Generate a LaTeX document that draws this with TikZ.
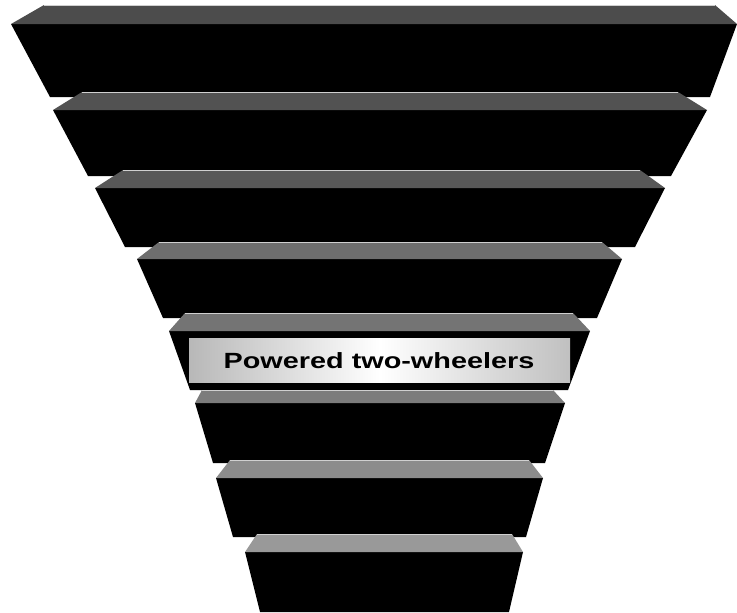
\documentclass[tikz,border=0pt]{standalone}
\usepackage{graphicx}
\usepackage{fontspec}
\setmainfont{Liberation Sans}
\definecolor{t1}{HTML}{4C4C4C}
\definecolor{t2}{HTML}{525252}
\definecolor{t3}{HTML}{585858}
\definecolor{t4}{HTML}{6E6E6E}
\definecolor{t5}{HTML}{747474}
\definecolor{t6}{HTML}{7C7C7C}
\definecolor{t7}{HTML}{8C8C8C}
\definecolor{t8}{HTML}{999999}
\definecolor{edgeline}{HTML}{D0D0D0}
\definecolor{boxside}{HTML}{B8B8B8}
\definecolor{boxright}{HTML}{C0C0C0}
\begin{document}
\begin{tikzpicture}[x=1pt,y=-1pt,
  frontface/.style={fill=black},
  topface/.style={fill=#1},
  rimline/.style={draw=edgeline,line width=0.8pt},
  labelbox/.style={left color=boxside,right color=boxright,middle color=white},
  labeltext/.style={font=\bfseries\fontsize{22}{26}\selectfont,inner sep=0pt,text=black}]
\useasboundingbox (0,0) rectangle (737,613);
\foreach \bl/\br/\by/\fl/\fr/\fy/\dl/\dr/\dy/\c in {
  44/715/5/11/737/24/50/710/97/t1,
  82/678/92/53/707/110/88/671/176/t2,
  123/640/170/95/665/188/125/635/247/t3,
  159/602/242/137/622/259/163/597/318/t4,
  185/573/313/169/590/331/190/568/390/t5,
  202/553/390/195/565/403/213/545/463/t6,
  230/529/460/216/543/478/233/526/537/t7,
  257/512/534/245/523/552/260/509/612/t8}{
  \fill[frontface] (\fl,\fy) -- (\fr,\fy) -- (\dr,\dy) -- (\dl,\dy) -- cycle;
  \fill[topface=\c] (\bl,\by) -- (\br,\by) -- (\fr,\fy) -- (\fl,\fy) -- cycle;
  \draw[rimline] (\bl,\by) -- (\br,\by);
}
\shade[labelbox] (189,338) rectangle (570,382);
\node[labeltext] (label) at (379,361) {\scalebox{1.31}[1]{Powered two-wheelers}};
\end{tikzpicture}
\end{document}
